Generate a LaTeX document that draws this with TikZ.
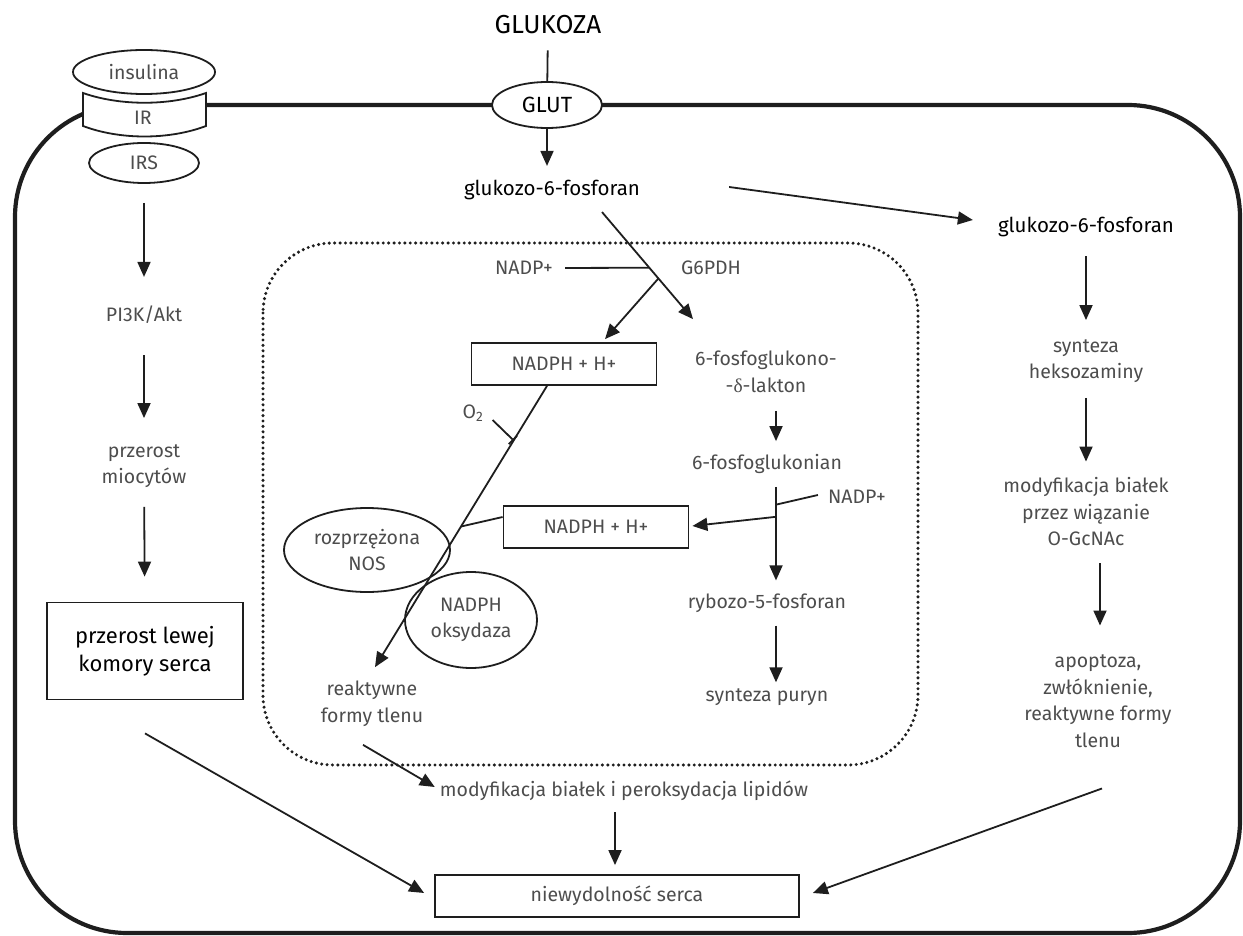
\documentclass[tikz,border=0pt]{standalone}
\usepackage{fontspec}
\setmainfont{Fira Sans}
\newfontfamily\greekfont{Liberation Serif}
\usetikzlibrary{arrows.meta, calc, positioning, shapes.geometric}

\definecolor{inkgray}{HTML}{4D4D4D}
\definecolor{linegray}{HTML}{1E1E1E}

\tikzset{
	arr/.style={-{Triangle[length=15pt,width=13pt]}, line width=1.8pt, draw=linegray},
	plain/.style={line width=1.8pt, draw=linegray},
	vgap/.style 2 args={shorten <=#1, shorten >=#2},
	lbl/.style={text=inkgray, font=\fontsize{19.5}{26.5}\selectfont, align=center, inner sep=2pt},
	keylbl/.style={text=black, font=\fontsize{20.5}{28}\selectfont, align=center, inner sep=2pt},
	box/.style={lbl, rectangle, draw=linegray, line width=1.8pt, inner sep=0pt,
			minimum width=185pt, minimum height=42pt},
	oval/.style={lbl, ellipse, draw=linegray, line width=1.8pt, inner sep=0pt}
}

\begin{document}
\begin{tikzpicture}[x=1pt, y=-1pt]
	\useasboundingbox (0,0) rectangle (1243,936);

	% cell membrane and dotted compartment
	\draw[line width=4.2pt, draw=linegray, rounded corners=112pt] (15,105) rectangle (1240,933);
	\draw[line width=3.4pt, line cap=round, dash pattern=on 0pt off 5.4pt, draw=linegray,
		rounded corners=70pt] (263,243) rectangle (918,765);

	% insulin receptor
	\draw[plain, fill=white] (83,93) .. controls (120,106) and (169,106) .. (206,93)
	-- (206,126) .. controls (169,140) and (120,140) .. (83,126) -- cycle;
	\node[lbl] (ir) at (143,118) {IR};
	\node[oval, fill=white, minimum width=142pt, minimum height=44pt] (ins) at (144,72) {insulina};
	\node[oval, fill=white, minimum width=110pt, minimum height=40pt] (irs) at (144,163) {IRS};

	% glucose uptake
	\node[keylbl, font=\fontsize{26}{28}\selectfont] (gluc) at (548,25) {GLUKOZA};
	\node[oval, fill=white, text=black, font=\fontsize{22}{26}\selectfont,
		minimum width=110pt, minimum height=46pt] (glut) at (547,105) {GLUT};
	\draw[plain, shorten <=14pt] (gluc) -- (glut);
	\node[keylbl] (g6p) at (552,190) {glukozo-6-fosforan};
	\draw[arr, shorten >=12pt] (glut.south) -- (glut.south |- g6p.north);

	% left column
	\node[lbl] (pi3k) at (144,315) {PI3K/Akt};
	\node[lbl] (mio) at (144,466) {przerost\\miocytów};
	\node[box, keylbl, font=\fontsize{22}{28}\selectfont, draw=linegray,
		minimum width=196pt, minimum height=97pt] (lvh) at (145,651) {przerost lewej\\komory serca};
	\draw[arr, vgap={19pt}{27pt}] (irs) -- (pi3k);
	\draw[arr, vgap={29pt}{24pt}] (pi3k) -- (mio);
	\draw[arr, vgap={17pt}{25pt}] (mio) -- (lvh);

	% pentose phosphate pathway
	\node[lbl] (nadpA) at (524,268) {NADP+};
	\node[lbl] (g6pdh) at (711,268) {G6PDH};
	\node[lbl] (lact) at (766,372) {6-fosfoglukono-\\-{\greekfont δ}-lakton};
	\draw[arr] ($(g6p.south)+(50,10)$) -- ($(lact.north)+(-73,-30)$)
	coordinate[pos=0.52] (jA) coordinate[pos=0.62] (jB);
	\draw[plain, shorten <=10pt] (nadpA.east) -- (jA);
	\node[box] (nadphA) at (564,364) {NADPH + H+};
	\draw[arr] (jB) -- ($(nadphA.north)+(41,-3)$);

	\node[lbl] (ros) at (372,704) {reaktywne\\formy tlenu};
	\draw[arr] ($(nadphA.south)+(-17,0)$) -- ($(ros.north)+(3,-12)$)
	coordinate[pos=0.194] (jO) coordinate[pos=0.5] (jN);
	\node[lbl] (oxy) at (473,413) {O\textsubscript{2}};
	\draw[plain, -{Bar[width=12pt]}] ($(oxy.east)+(7,7)$) -- (jO);

	\node[box] (nadphB) at (596,527) {NADPH + H+};
	\draw[plain] ($(nadphB.west)+(0,-10)$) -- (jN);
	\node[oval, minimum width=166pt, minimum height=84pt] (nos) at (367,550) {rozprzężona\\NOS};
	\node[oval, minimum width=132pt, minimum height=96pt] (nox) at (471,620) {NADPH\\oksydaza};

	\node[lbl] (gluk) at (767,464) {6-fosfoglukonian};
	\draw[arr] ($(lact.south)+(10,16)$) -- ($(gluk.north)+(9,-11)$);
	\node[lbl] (rib) at (767,603) {rybozo-5-fosforan};
	\draw[arr] ($(gluk.south)+(9,11)$) -- ($(rib.north)+(9,-11)$)
	coordinate[pos=0.19] (jC) coordinate[pos=0.32] (jD);
	\node[lbl] (nadpB) at (857,497) {NADP+};
	\draw[plain] ($(nadpB.west)+(-8,-2)$) -- (jC);
	\draw[arr] (jD) -- ($(nadphB.east)+(3,-1)$);
	\node[lbl] (pur) at (767,697) {synteza puryn};
	\draw[arr] ($(rib.south)+(9,11)$) -- ($(pur.north)+(9,-4)$);

	% right column
	\node[keylbl] (g6pR) at (1086,227) {glukozo-6-fosforan};
	\draw[arr] ($(g6p.east)+(87,-3)$) -- ($(g6pR.west)+(-23,-7)$);
	\node[lbl] (hexo) at (1086,361) {synteza\\heksozaminy};
	\node[lbl] (ogc) at (1086,512) {modyfikacja białek\\przez wiązanie\\O-GcNAc};
	\node[lbl] (apop) at (1098,701) {apoptoza,\\zwłóknienie,\\reaktywne formy\\tlenu};
	\draw[arr, vgap={17pt}{17pt}] (g6pR) -- (hexo);
	\draw[arr, vgap={13pt}{14pt}] (hexo) -- (ogc);
	\draw[arr, vgap={15pt}{27pt}] ($(ogc.south)+(14,0)$) -- ($(apop.north)+(2,0)$);

	% heart failure
	\node[box, minimum width=364pt, minimum height=42pt] (hf) at (617,896) {niewydolność serca};
	\node[lbl] (mod) at (624,791) {modyfikacja białek i peroksydacja lipidów};
	\draw[arr] ($(ros.south)+(-9,16)$) -- ($(mod.west)+(-3,-4)$);
	\draw[arr] ($(mod.south)+(-9,9)$) -- ($(hf.north)+(-2,-9)$);
	\draw[arr] ($(lvh.south)+(0,33)$) -- ($(hf.west)+(-10,-3)$);
	\draw[arr] ($(apop.south)+(4,39)$) -- ($(hf.east)+(13,-3)$);
\end{tikzpicture}
\end{document}
